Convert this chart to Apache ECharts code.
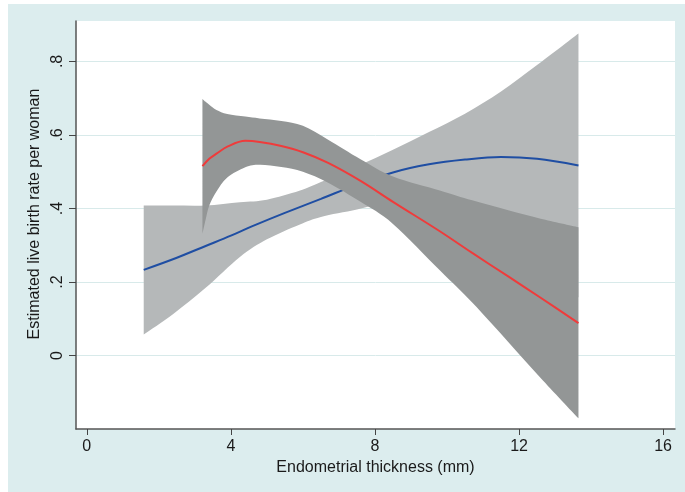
<!DOCTYPE html>
<html>
<head>
<meta charset="utf-8">
<script src="https://cdn.jsdelivr.net/npm/echarts@6/dist/echarts.min.js"></script>
<style>
  html, body { margin: 0; padding: 0; background: #ffffff; }
  #chart { width: 685px; height: 492px; }
</style>
</head>
<body>
<div id="chart"></div>
<script>
// Fit 1 (blue) with its confidence band
const fitAX = [1.58, 2.5, 3.3, 4.0, 4.7, 5.5, 6.5, 7.5, 8.5, 9.5, 10.5, 11.5, 12.5, 13.65];
const fitAY = [0.233, 0.266, 0.298, 0.326, 0.356, 0.388, 0.426, 0.465, 0.498, 0.520, 0.533, 0.540, 0.535, 0.517];
const bandAX = [1.58, 2.4, 3.3, 4.25, 5.0, 5.9, 6.5, 7.5, 8.5, 9.5, 10.5, 11.5, 12.5, 13.65];
const bandALo = [0.057, 0.113, 0.184, 0.268, 0.316, 0.356, 0.377, 0.397, 0.420, 0.430, 0.408, 0.362, 0.280, 0.158];
const bandAHi = [0.408, 0.408, 0.408, 0.417, 0.424, 0.448, 0.472, 0.515, 0.560, 0.608, 0.658, 0.718, 0.790, 0.876];

// Fit 2 (red) with its confidence band
const fitBX = [3.21, 3.4, 3.6, 3.9, 4.4, 4.8, 5.4, 6.0, 6.7, 7.6, 8.5, 9.8, 10.7, 11.7, 12.6, 13.65];
const fitBY = [0.515, 0.535, 0.549, 0.568, 0.584, 0.581, 0.570, 0.553, 0.524, 0.475, 0.418, 0.338, 0.279, 0.215, 0.157, 0.088];
const bandBX = [3.21, 3.3, 3.4, 3.6, 3.9, 4.4, 4.8, 5.4, 6.0, 6.7, 7.6, 8.5, 9.8, 10.7, 11.7, 12.6, 13.65];
const bandBLo = [0.331, 0.370, 0.408, 0.446, 0.484, 0.512, 0.519, 0.513, 0.500, 0.470, 0.418, 0.358, 0.232, 0.144, 0.037, -0.061, -0.171];
const bandBHi = [0.698, 0.690, 0.682, 0.668, 0.657, 0.650, 0.645, 0.638, 0.625, 0.587, 0.534, 0.487, 0.449, 0.422, 0.395, 0.372, 0.349];

// Axis ticks and labels
const xTicks = [0, 4, 8, 12, 16];
const yTicks = [0, 0.2, 0.4, 0.6, 0.8];
const yTickLabels = ['0', '.2', '.4', '.6', '.8'];

const FONT = '"Liberation Sans", Arial, sans-serif';

function pairs(xs, ys) {
  return xs.map((x, i) => [x, ys[i]]);
}

// Smooth curve through pixel points (Catmull-Rom as cubic Bezier segments)
function curveTo(pts, first) {
  let d = first ? 'M' + pts[0][0] + ' ' + pts[0][1] : 'L' + pts[0][0] + ' ' + pts[0][1];
  for (let i = 0; i < pts.length - 1; i++) {
    const p0 = pts[Math.max(i - 1, 0)];
    const p1 = pts[i];
    const p2 = pts[i + 1];
    const p3 = pts[Math.min(i + 2, pts.length - 1)];
    const c1x = p1[0] + (p2[0] - p0[0]) / 6;
    const c1y = p1[1] + (p2[1] - p0[1]) / 6;
    const c2x = p2[0] - (p3[0] - p1[0]) / 6;
    const c2y = p2[1] - (p3[1] - p1[1]) / 6;
    d += ' C' + c1x + ' ' + c1y + ' ' + c2x + ' ' + c2y + ' ' + p2[0] + ' ' + p2[1];
  }
  return d;
}

// Band as one closed shape: upper edge left-to-right, lower edge back
function bandSeries(xs, lo, hi, color, z) {
  return {
    type: 'custom',
    z: z,
    silent: true,
    clip: true,
    data: xs.map((x, i) => [x, lo[i], hi[i]]),
    encode: { x: 0, y: [1, 2] },
    renderItem: function (params, api) {
      if (params.dataIndex !== 0) return null;
      const top = xs.map((x, i) => api.coord([x, hi[i]]));
      const bottom = xs.map((x, i) => api.coord([x, lo[i]])).reverse();
      const d = curveTo(top, true) + ' ' + curveTo(bottom, false) + ' Z';
      return {
        type: 'path',
        shape: { pathData: d },
        style: { fill: color, stroke: null }
      };
    }
  };
}

function lineSeries(xs, ys, color, z) {
  return {
    type: 'line',
    z: z,
    data: pairs(xs, ys),
    smooth: 0.35,
    showSymbol: false,
    silent: true,
    lineStyle: { color: color, width: 2 }
  };
}

const chart = echarts.init(document.getElementById('chart'), null, { renderer: 'canvas' });

chart.setOption({
  animation: false,
  backgroundColor: 'transparent',
  graphic: [{
    type: 'rect',
    z: -10,
    silent: true,
    shape: { x: 8, y: 4, width: 677, height: 488 },
    style: { fill: '#dcedee' }
  }],
  grid: {
    left: 76, right: 10, top: 21, bottom: 63,
    show: true, backgroundColor: '#ffffff', borderWidth: 0
  },
  xAxis: {
    type: 'value',
    min: -0.3, max: 16.33,
    name: 'Endometrial thickness (mm)',
    nameLocation: 'middle',
    nameGap: 26,
    nameTextStyle: { fontFamily: FONT, fontSize: 16, color: '#1a1a1a' },
    axisLine: { show: true, onZero: false, lineStyle: { color: '#555555', width: 1.5 } },
    axisTick: { show: true, inside: false, length: 6, customValues: xTicks, lineStyle: { color: '#444444', width: 1 } },
    axisLabel: { customValues: xTicks, margin: 10, fontFamily: FONT, fontSize: 16, color: '#1a1a1a' },
    splitLine: { show: false }
  },
  yAxis: {
    type: 'value',
    min: -0.2, max: 0.91, interval: 0.2,
    name: 'Estimated live birth rate per woman',
    nameLocation: 'middle',
    nameGap: 30,
    nameTextStyle: { fontFamily: FONT, fontSize: 16, color: '#1a1a1a', padding: [0, 0, 0, 22] },
    axisLine: { show: true, onZero: false, lineStyle: { color: '#555555', width: 1.5 } },
    axisTick: { show: true, inside: false, length: 7, customValues: yTicks, lineStyle: { color: '#444444', width: 1 } },
    axisLabel: {
      customValues: yTicks,
      rotate: 90,
      margin: 10,
      fontFamily: FONT, fontSize: 16, color: '#1a1a1a',
      formatter: function (v) {
        const i = yTicks.findIndex(t => Math.abs(t - v) < 1e-9);
        return i >= 0 ? yTickLabels[i] : '';
      }
    },
    splitLine: { show: true, lineStyle: { color: '#d8eaea', width: 1 } }
  },
  series: [
    bandSeries(bandAX, bandALo, bandAHi, '#b5b8b9', 1),
    lineSeries(fitAX, fitAY, '#1f4ea3', 2),
    bandSeries(bandBX, bandBLo, bandBHi, '#939696', 3),
    lineSeries(fitBX, fitBY, '#ef3b3b', 4)
  ]
});
</script>
</body>
</html>
